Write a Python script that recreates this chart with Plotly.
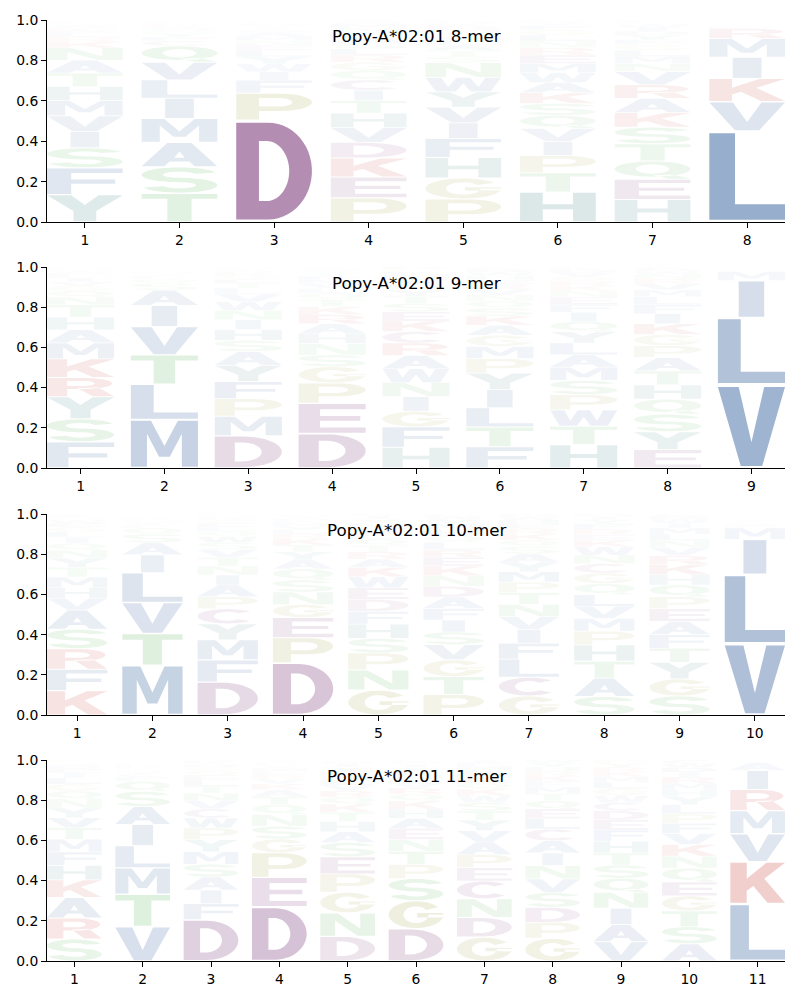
import numpy as np
import plotly.graph_objects as go

# ---------------- data ----------------
TITLES = ["Popy-A*02:01 8-mer", "Popy-A*02:01 9-mer",
          "Popy-A*02:01 10-mer", "Popy-A*02:01 11-mer"]

ORDER_8 = ["YFSIVMHTANKRLEQWCGPD", "TSAMILVQCFYNWKRGEHPD", "DPFIWYLENMASTQGVKRHC",
           "PEKDVHTICQGRLSAFNMWY", "PGHFIVYWNSTALEQMDKRC", "HTPIVQSKAWMERNLGFYDC",
           "HEQTSKARVNMLGFYDIWPC", "LVKIMRFATYESQNHWCGPD"]
PROB_8 = [
    [.136, .133, .10, .08, .078, .076, .07, .066, .064, .062, .03, .025, .02, .015, .015, .01, .008, .006, .005, .004],
    [.142, .13, .12, .118, .10, .09, .087, .08, .025, .02, .018, .015, .012, .01, .008, .007, .006, .004, .002, .001],
    [.49, .13, .062, .04, .038, .035, .03, .025, .022, .02, .018, .015, .012, .01, .008, .006, .004, .003, .002, .001],
    [.117, .10, .092, .075, .072, .07, .06, .05, .05, .045, .04, .035, .03, .028, .026, .025, .022, .018, .012, .008],
    [.11, .10, .098, .09, .075, .075, .072, .07, .07, .03, .028, .025, .022, .02, .018, .016, .014, .012, .01, .008],
    [.14, .09, .08, .065, .062, .06, .056, .05, .048, .045, .043, .04, .035, .03, .028, .025, .02, .012, .008, .005],
    [.112, .10, .09, .085, .082, .072, .07, .068, .065, .04, .035, .03, .028, .025, .022, .02, .018, .015, .012, .01],
    [.45, .145, .115, .105, .092, .05, .01, .006, .005, .004, .003, .003, .002, .002, .002, .001, .001, .001, .001, .001],
]

ORDER_9 = ["FSYRKMAHTNQGVILEWPDC", "MLTVIASQFCYNGKREHWPD", "DMPFYASHINWVLTEGKRCQ",
           "DEPGSNHARKTQLVMFYIWC", "HFGINWARCKESTYQVMLPD", "FTLIYPMGAKSQNVREHWDC",
           "HTWPSMALYQIFENKRGVDC", "EYSQHTAPGKIFLMVRNWDC", "VLIMAFTYCQKRSHWENGPD"]
PROB_9 = [
    [.13, .115, .11, .095, .093, .08, .065, .063, .06, .04, .03, .025, .02, .018, .015, .012, .01, .008, .006, .005],
    [.24, .175, .145, .14, .105, .075, .035, .02, .01, .01, .008, .006, .005, .005, .004, .003, .003, .002, .002, .002],
    [.165, .10, .09, .088, .083, .07, .058, .055, .05, .047, .045, .04, .03, .025, .02, .018, .015, .012, .01, .008],
    [.17, .15, .10, .08, .058, .056, .05, .048, .045, .04, .035, .03, .025, .022, .02, .018, .015, .012, .01, .008],
    [.10, .098, .075, .07, .068, .066, .064, .06, .055, .05, .045, .04, .035, .03, .028, .025, .02, .015, .012, .01],
    [.105, .098, .095, .09, .082, .072, .06, .055, .05, .045, .04, .035, .03, .028, .025, .022, .02, .018, .015, .01],
    [.115, .09, .08, .075, .07, .065, .06, .058, .056, .05, .045, .04, .035, .03, .025, .025, .02, .02, .015, .012],
    [.092, .09, .088, .075, .072, .07, .066, .06, .056, .054, .05, .045, .04, .035, .03, .025, .022, .015, .012, .01],
    [.415, .335, .185, .045, .004, .003, .003, .002, .002, .001, .001, .001, .001, .001, .001, .0005, .0005, .0005, .0005, .0005],
]

ORDER_10 = ["KFRSAVHMTYNQILGEWPDC", "MTVLIASQFCYNGKREHWPD", "DFMYCPAINTVSWQLEGKHR",
            "DPEGNSQAYTKRLVMFHIWC", "GNPSHFDEWKARTQLVMYIC", "PTGVSIFADNKERLQHMYWC",
            "GCLFIVNTPMYASQKREHWD", "SATHPMVLQGCNWKERFYID", "SGYTFAEPQHKRVNLMIWDC",
            "VLIMFACTYQSKRHWENGPD"]
PROB_10 = [
    [.125, .11, .105, .10, .098, .06, .055, .054, .05, .048, .04, .035, .03, .028, .025, .02, .015, .012, .01, .01],
    [.25, .16, .155, .15, .09, .06, .045, .03, .01, .01, .01, .008, .007, .006, .005, .004, .003, .003, .002, .002],
    [.165, .11, .10, .08, .075, .06, .058, .05, .045, .042, .04, .035, .03, .025, .022, .02, .015, .012, .01, .008],
    [.26, .125, .10, .065, .062, .06, .055, .045, .04, .035, .03, .025, .02, .018, .015, .012, .01, .01, .008, .005],
    [.12, .097, .082, .07, .068, .062, .058, .055, .053, .045, .04, .035, .032, .03, .028, .025, .022, .02, .015, .01],
    [.095, .082, .078, .07, .058, .055, .054, .052, .05, .048, .045, .04, .035, .035, .03, .028, .025, .022, .015, .01],
    [.09, .088, .085, .075, .065, .06, .058, .055, .05, .048, .045, .04, .035, .03, .028, .025, .022, .02, .015, .012],
    [.088, .087, .08, .078, .065, .06, .058, .055, .052, .05, .045, .04, .04, .03, .028, .025, .025, .02, .015, .012],
    [.095, .085, .083, .07, .068, .066, .063, .06, .058, .052, .05, .045, .04, .035, .032, .03, .025, .02, .015, .01],
    [.345, .335, .17, .055, .012, .01, .008, .007, .006, .005, .004, .003, .003, .002, .002, .001, .001, .001, .001, .001],
]

ORDER_11 = ["SRAKHFMTVYNQGLIEDWPC", "VTMLIASQFCYNGKREHWPD", "DFIASMYPWCVNTLEQGHKR",
            "DEPGSNQTAKVRLMYFHIWC", "DNGPESAHTKQRVLMFYIWC", "DGSPTNEAHKQRVLMFYIWC",
            "GDNCEPAVYTSWKQRHLMFI", "GPDSVNIACLEQTMFKRHYW", "VAINQSTHFEDCWGLMKRYP",
            "ASTGEQNKVFPLYHMRIDWC", "LKVMRIAFTYQSCHWENGPD"]
PROB_11 = [
    [.11, .105, .102, .088, .073, .067, .063, .058, .05, .048, .045, .04, .035, .03, .025, .02, .015, .012, .01, .008],
    [.17, .16, .13, .11, .105, .088, .075, .05, .02, .015, .012, .01, .01, .008, .007, .006, .005, .005, .004, .003],
    [.205, .08, .068, .065, .063, .062, .06, .058, .05, .045, .04, .038, .035, .03, .025, .02, .018, .015, .012, .01],
    [.275, .15, .125, .07, .065, .06, .05, .04, .035, .03, .025, .02, .018, .015, .012, .01, .008, .006, .004, .003],
    [.12, .115, .10, .09, .083, .07, .052, .05, .045, .04, .035, .03, .028, .025, .022, .02, .02, .015, .012, .008],
    [.16, .14, .11, .07, .065, .06, .055, .05, .045, .04, .035, .03, .025, .022, .02, .018, .017, .015, .012, .01],
    [.115, .095, .09, .085, .065, .063, .06, .055, .05, .045, .04, .035, .03, .028, .025, .022, .02, .018, .015, .012],
    [.108, .075, .072, .07, .065, .063, .06, .058, .055, .05, .045, .04, .035, .03, .028, .025, .022, .02, .018, .015],
    [.095, .085, .08, .078, .07, .065, .06, .058, .055, .05, .045, .04, .035, .035, .03, .028, .025, .022, .02, .015],
    [.086, .085, .078, .075, .07, .068, .06, .058, .055, .05, .048, .045, .04, .035, .032, .03, .025, .022, .02, .018],
    [.285, .21, .14, .115, .105, .095, .04, .002, .002, .001, .001, .001, .001, .001, .001, .0005, .0005, .0005, .0005, .0005],
]

PANELS = [(ORDER_8, PROB_8), (ORDER_9, PROB_9), (ORDER_10, PROB_10), (ORDER_11, PROB_11)]

# ---------------- styles ----------------
GROUP_COLORS = {
    "AVLIMFW": (25, 75, 142),
    "DEC": (104, 30, 102),
    "KR": (185, 25, 15),
    "STNQ": (50, 160, 50),
    "GP": (140, 140, 30),
    "HY": (20, 100, 100),
}
COLOR = {ch: col for grp, col in GROUP_COLORS.items() for ch in grp}


def arc(cx, cy, rx, ry, a0, a1, n=28):
    t = np.radians(np.linspace(a0, a1, n))
    return [(cx + rx * np.cos(a), cy + ry * np.sin(a)) for a in t]


def ring_seg(cx, cy, rxo, ryo, rxi, ryi, a0, a1, n=36):
    return arc(cx, cy, rxo, ryo, a0, a1, n) + arc(cx, cy, rxi, ryi, a1, a0, n)


def rect(x0, y0, x1, y1):
    return [(x0, y0), (x1, y0), (x1, y1), (x0, y1)]


# glyph outlines in a unit box: list of (polygon, is_hole)
GLYPHS = {
    "A": [([(0, 0), (0.3, 0), (0.37, 0.2), (0.63, 0.2), (0.7, 0), (1, 0), (0.66, 1), (0.34, 1)], False),
          ([(0.43, 0.36), (0.57, 0.36), (0.5, 0.63)], True)],
    "C": [(ring_seg(0.5, 0.5, 0.5, 0.5, 0.23, 0.31, 42, 318), False)],
    "D": [([(0, 0), (0.42, 0)] + arc(0.42, 0.5, 0.58, 0.5, -90, 90) + [(0.42, 1), (0, 1)], False),
          ([(0.3, 0.19), (0.4, 0.19)] + arc(0.4, 0.5, 0.3, 0.31, -90, 90) + [(0.4, 0.81), (0.3, 0.81)], True)],
    "E": [([(0, 0), (1, 0), (1, 0.18), (0.32, 0.18), (0.32, 0.42), (0.92, 0.42), (0.92, 0.58),
            (0.32, 0.58), (0.32, 0.82), (1, 0.82), (1, 1), (0, 1)], False)],
    "F": [([(0, 0), (0.32, 0), (0.32, 0.4), (0.9, 0.4), (0.9, 0.57), (0.32, 0.57), (0.32, 0.82),
            (1, 0.82), (1, 1), (0, 1)], False)],
    "G": [(ring_seg(0.5, 0.5, 0.5, 0.5, 0.23, 0.31, 35, 360), False),
          (rect(0.52, 0.4, 1.0, 0.56), False)],
    "H": [([(0, 0), (0.3, 0), (0.3, 0.42), (0.7, 0.42), (0.7, 0), (1, 0), (1, 1), (0.7, 1),
            (0.7, 0.6), (0.3, 0.6), (0.3, 1), (0, 1)], False)],
    "I": [(rect(0.31, 0, 0.69, 1), False)],
    "K": [([(0, 0), (0.3, 0), (0.3, 0.3), (0.42, 0.42), (0.68, 0), (1, 0), (0.62, 0.6), (1, 1),
            (0.66, 1), (0.3, 0.6), (0.3, 1), (0, 1)], False)],
    "L": [([(0, 0), (1, 0), (1, 0.18), (0.34, 0.18), (0.34, 1), (0, 1)], False)],
    "M": [([(0, 0), (0.24, 0), (0.24, 0.72), (0.42, 0.22), (0.58, 0.22), (0.76, 0.72), (0.76, 0),
            (1, 0), (1, 1), (0.7, 1), (0.5, 0.45), (0.3, 1), (0, 1)], False)],
    "N": [([(0, 0), (0.27, 0), (0.27, 0.68), (0.68, 0), (1, 0), (1, 1), (0.73, 1), (0.73, 0.32),
            (0.32, 1), (0, 1)], False)],
    "P": [([(0, 0), (0.3, 0), (0.3, 0.33), (0.58, 0.33)] + arc(0.58, 0.665, 0.42, 0.335, -90, 90)
           + [(0.58, 1), (0, 1)], False),
          ([(0.3, 0.5), (0.56, 0.5)] + arc(0.56, 0.665, 0.18, 0.165, -90, 90) + [(0.56, 0.83), (0.3, 0.83)], True)],
    "Q": [(arc(0.5, 0.56, 0.5, 0.44, 0, 360, 60), False),
          (arc(0.5, 0.56, 0.22, 0.27, 0, 360, 60), True),
          ([(0.5, 0.2), (0.72, 0), (1, 0), (0.76, 0.24)], False)],
    "R": [([(0, 0), (0.3, 0), (0.3, 0.4), (0.55, 0.4)] + arc(0.55, 0.7, 0.42, 0.3, -90, 90)
           + [(0.55, 1), (0, 1)], False),
          ([(0.3, 0.56), (0.54, 0.56)] + arc(0.54, 0.7, 0.17, 0.14, -90, 90) + [(0.54, 0.84), (0.3, 0.84)], True),
          ([(0.45, 0.45), (0.68, 0), (1, 0), (0.76, 0.48)], False)],
    "S": [(ring_seg(0.5, 0.7075, 0.5, 0.2925, 0.22, 0.1225, 18, 270), False),
          (ring_seg(0.5, 0.2925, 0.5, 0.2925, 0.22, 0.1225, 90, -162), False)],
    "T": [([(0, 0.82), (0, 1), (1, 1), (1, 0.82), (0.66, 0.82), (0.66, 0), (0.34, 0), (0.34, 0.82)], False)],
    "V": [([(0, 1), (0.31, 1), (0.5, 0.3), (0.69, 1), (1, 1), (0.66, 0), (0.34, 0)], False)],
    "W": [([(0, 1), (0.21, 1), (0.3, 0.33), (0.41, 1), (0.59, 1), (0.7, 0.33), (0.79, 1), (1, 1),
            (0.86, 0), (0.6, 0), (0.5, 0.58), (0.4, 0), (0.14, 0)], False)],
    "Y": [([(0, 1), (0.32, 1), (0.5, 0.63), (0.68, 1), (1, 1), (0.65, 0.4), (0.65, 0), (0.35, 0),
            (0.35, 0.4)], False)],
}


def oriented(poly, hole):
    p = np.array(poly, dtype=float)
    x, y = p[:, 0], p[:, 1]
    area = 0.5 * np.sum(x * np.roll(y, -1) - np.roll(x, -1) * y)
    if (area > 0) == hole:
        p = p[::-1]
    return p


def glyph_path(ch, xc, y0, h, half=0.4):
    parts = []
    for poly, hole in GLYPHS[ch]:
        p = oriented(poly, hole)
        pts = [f"{xc - half + 2 * half * u:.4f},{y0 + h * v:.5f}" for u, v in p]
        parts.append("M " + " L ".join(pts) + " Z")
    return " ".join(parts)


# ---------------- figure ----------------
DOMAINS = [(0.7853, 1.0), (0.5239, 0.7375), (0.2614, 0.4750), (0.0, 0.2136)]
VPAD = 0.025  # fraction of each letter's height left blank at top and bottom

fig = go.Figure()
shapes = []
annotations = []
# the page body adds an 8px offset, so margins compensate for it
layout = dict(width=800, height=1000, margin=dict(l=39, r=23, t=12, b=47, autoexpand=False),
              plot_bgcolor="white", paper_bgcolor="white", showlegend=False)

axis_style = dict(showline=True, linecolor="black", linewidth=1, ticks="outside",
                  ticklen=5, tickwidth=1, tickcolor="black", showgrid=False, automargin=False,
                  zeroline=False, tickfont=dict(family="DejaVu Sans", size=13.9, color="black"))

for i, ((orders, probs), title) in enumerate(zip(PANELS, TITLES), start=1):
    xr = "x" if i == 1 else f"x{i}"
    yr = "y" if i == 1 else f"y{i}"
    n = len(orders)
    for pos, (order, vals) in enumerate(zip(orders, probs), start=1):
        v = np.array(vals, dtype=float)
        v = v / v.sum()
        base = 0.0
        for ch, p in zip(order, v):
            pad = VPAD * p
            h = p - 2 * pad
            if h > 0.0005:
                r, g, b = COLOR[ch]
                shapes.append(dict(type="path", path=glyph_path(ch, pos, base + pad, h),
                                   xref=xr, yref=yr, line=dict(width=0),
                                   fillcolor=f"rgba({r},{g},{b},{p:.4f})", layer="above"))
            base += p
    fig.add_trace(go.Scatter(x=[], y=[], xaxis=xr, yaxis=yr, showlegend=False))
    layout[f"xaxis{'' if i == 1 else i}"] = dict(
        domain=[0, 1], anchor=yr, range=[0.6, n + 0.4], tickmode="array",
        tickvals=list(range(1, n + 1)), ticktext=[str(k) for k in range(1, n + 1)], **axis_style)
    layout[f"yaxis{'' if i == 1 else i}"] = dict(
        domain=list(DOMAINS[i - 1]), anchor=xr, range=[0, 1], tickmode="array",
        tickvals=[0, 0.2, 0.4, 0.6, 0.8, 1.0],
        ticktext=["0.0", "0.2", "0.4", "0.6", "0.8", "1.0"], **axis_style)
    annotations.append(dict(text=title, xref=f"{xr} domain", yref=f"{yr} domain",
                            x=0.5, y=0.922, xanchor="center", yanchor="middle",
                            showarrow=False,
                            font=dict(family="DejaVu Sans", size=16.7, color="black")))

layout["shapes"] = shapes
layout["annotations"] = annotations
fig.update_layout(**layout)
fig.write_html("out.html")
